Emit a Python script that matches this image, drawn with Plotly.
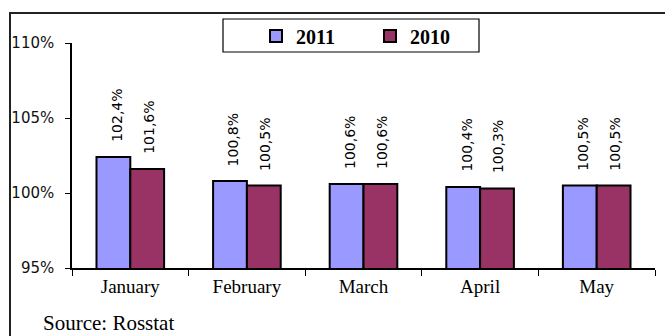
import plotly.graph_objects as go

months = ["January", "February", "March", "April", "May"]
values_2011 = [102.4, 100.8, 100.6, 100.4, 100.5]
values_2010 = [101.6, 100.5, 100.6, 100.3, 100.5]
labels_2011 = ["102,4%", "100,8%", "100,6%", "100,4%", "100,5%"]
labels_2010 = ["101,6%", "100,5%", "100,6%", "100,3%", "100,5%"]
y_ticks = [95, 100, 105, 110]
y_tick_labels = ["95%", "100%", "105%", "110%"]

W, H = 665, 336
L, R, T, B = 72, 10, 43, 68
pw, ph = W - L - R, H - T - B

def px_x(x):
    return (x - L) / pw

def px_y(y):
    return (H - B - y) / ph

serif = "Liberation Serif"
sans = "DejaVu Sans"
fig = go.Figure()
fig.add_trace(go.Bar(
    name="<b>2011</b>", x=months, y=values_2011,
    marker=dict(color="#9999FF", line=dict(color="black", width=2)),
))
fig.add_trace(go.Bar(
    name="<b>2010</b>", x=months, y=values_2010,
    marker=dict(color="#993366", line=dict(color="black", width=2)),
))

# rotated value labels above each bar
bar_px = 34
for i, m in enumerate(months):
    for vals, labs, off in ((values_2011, labels_2011, -bar_px / 2 + 3),
                            (values_2010, labels_2010, bar_px / 2 + 1)):
        fig.add_annotation(
            x=m, y=vals[i], text=labs[i], textangle=-90, showarrow=False,
            xshift=off, yshift=13, yanchor="bottom",
            font=dict(family=sans, size=14, color="black"),
        )

fig.add_annotation(
    x=px_x(41), y=px_y(309), xref="paper", yref="paper", xanchor="left", yanchor="top",
    text="Source: Rosstat", showarrow=False,
    font=dict(family=serif, size=21, color="black"),
)

# outer frame (open on the right) and legend box
fig.add_shape(type="rect", xref="paper", yref="paper",
              x0=px_x(10), x1=px_x(680), y0=px_y(13), y1=px_y(360),
              line=dict(color="#222222", width=2))
fig.add_shape(type="rect", xref="paper", yref="paper",
              x0=px_x(223), x1=px_x(479), y0=px_y(19), y1=px_y(52),
              line=dict(color="black", width=1.2))

fig.update_layout(
    width=W, height=H,
    margin=dict(l=L, r=R, t=T, b=B),
    paper_bgcolor="white", plot_bgcolor="white",
    barmode="group", bargap=0.42, bargroupgap=0,
    font=dict(family=serif, color="black"),
    showlegend=True,
    legend=dict(
        orientation="h", x=px_x(256), y=px_y(36), xanchor="left", yanchor="middle",
        bgcolor="rgba(0,0,0,0)", borderwidth=0,
        font=dict(family=serif, size=20, color="black"),
        itemwidth=30, entrywidth=69, traceorder="normal",
    ),
    xaxis=dict(
        showline=True, linecolor="black", linewidth=1.5,
        ticks="outside", tickson="boundaries", ticklen=6, tickcolor="black",
        tickfont=dict(family=serif, size=19, color="black"),
        showgrid=False,
    ),
    yaxis=dict(
        range=[95, 110], tickvals=y_ticks, ticktext=y_tick_labels,
        showline=True, linecolor="black", linewidth=1.5,
        ticks="outside", ticklen=5, tickcolor="black", ticklabelstandoff=8,
        tickfont=dict(family=sans, size=15, color="#111111"),
        showgrid=False, zeroline=False,
    ),
)

fig.write_html("out.html")
